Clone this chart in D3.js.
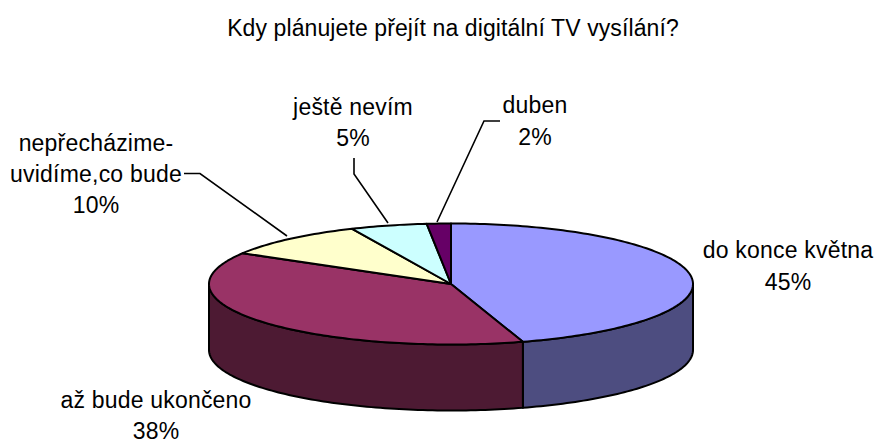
<!DOCTYPE html>
<html><head><meta charset="utf-8">
<script src="https://cdn.jsdelivr.net/npm/d3@7"></script>
<style>html,body{margin:0;background:#fff}svg{display:block}text{font-family:"Liberation Sans",Arial,sans-serif;font-size:23px;fill:#000;letter-spacing:.2px}</style>
</head><body><svg id="c" width="875" height="440"></svg>
<script>
const title = "Kdy plánujete přejít na digitální TV vysílání?";
const categories = ["do konce května","až bude ukončeno","nepřecházime-|uvidíme,co bude","ještě nevím","duben"];
const values = [45.2,38.3,9.8,5.1,1.6];
const topColors = ["#9999ff","#993366","#ffffcc","#ccffff","#660066"];
const sideColors = ["#4d4d80","#4d1a33","#808066","#668080","#330033"];

const cx=451, cy=284, rx=242, ry=60.5, depth=66;
const svg=d3.select("#c");
const sx=d3.scaleLinear().domain([-1,1]).range([cx-rx,cx+rx]);
const sy=d3.scaleLinear().domain([-1,1]).range([cy-ry,cy+ry]);
const pie=d3.pie().sort(null).value(d=>d)(values);
const px=a=>sx(Math.sin(a)), py=a=>sy(-Math.cos(a));
const line=d3.line();
const samples=(a0,a1)=>{const n=Math.max(2,Math.ceil((a1-a0)/0.02));return d3.range(n+1).map(i=>a0+(a1-a0)*i/n)};

pie.forEach((p,i)=>{
  const a0=Math.max(p.startAngle,Math.PI/2), a1=Math.min(p.endAngle,Math.PI*1.5);
  if(a1<=a0) return;
  const as=samples(a0,a1);
  const pts=as.map(a=>[px(a),py(a)]).concat(as.slice().reverse().map(a=>[px(a),py(a)+depth]));
  svg.append("path").attr("d",line(pts)+"Z").attr("fill",sideColors[i]).attr("stroke","#000").attr("stroke-width",2).attr("stroke-linejoin","round");
});
pie.forEach((p,i)=>{
  const pts=[[sx(0),sy(0)]].concat(samples(p.startAngle,p.endAngle).map(a=>[px(a),py(a)]));
  svg.append("path").attr("d",line(pts)+"Z").attr("fill",topColors[i]).attr("stroke","#000").attr("stroke-width",2).attr("stroke-linejoin","round");
});
[[[184,173.5],[200,173.5],[287,236]],[[354,158],[354,174],[388,223]],[[500,121],[484,121],[437,222]]].forEach(l=>{
  svg.append("path").attr("d",line(l)).attr("fill","none").attr("stroke","#000").attr("stroke-width",1.6);
});
svg.append("text").attr("x",453).attr("y",36).attr("text-anchor","middle").style("letter-spacing",".1px").text(title);
const labelPos=[[788,258],[156,408],[96,151],[353,115],[535,113]];
const lineH=[32,31,31,31,32];
categories.forEach((c,i)=>{
  const lines=c.split("|").concat([Math.round(values[i])+"%"]);
  const t=svg.append("text").attr("text-anchor","middle");
  lines.forEach((s,j)=>t.append("tspan").attr("x",labelPos[i][0]).attr("y",labelPos[i][1]+j*lineH[i]).text(s));
});
</script></body></html>
